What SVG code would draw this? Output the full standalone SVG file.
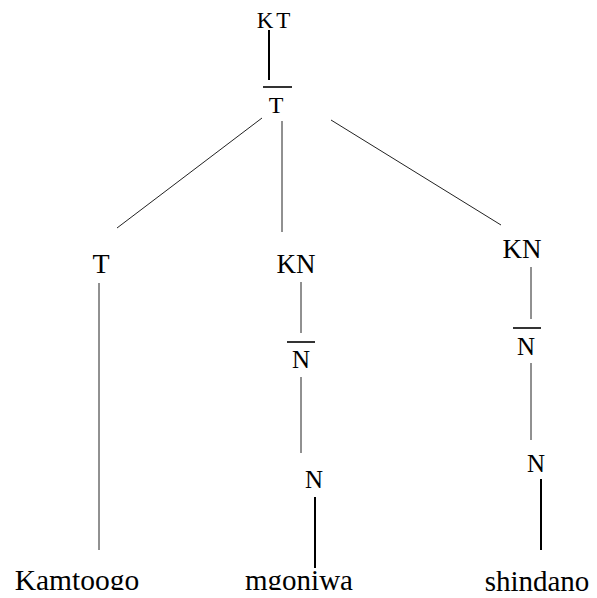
<svg xmlns="http://www.w3.org/2000/svg" width="597" height="598" viewBox="0 0 597 598">
<style>
text{font-family:"Liberation Serif","Times New Roman",serif;fill:#000;text-anchor:middle}
.thin{stroke:#222;stroke-width:1;fill:none}
.thick{stroke:#000;stroke-width:2;fill:none}
.bar{stroke:#000;stroke-width:1.6;fill:none}
</style>
<defs>
<clipPath id="clipBottom"><rect x="0" y="0" width="597" height="590"/></clipPath>
</defs>
<g id="connectors">
<line class="thick" x1="269" y1="30" x2="269" y2="80"/>
<line class="thin" x1="262" y1="118" x2="117" y2="228"/>
<line class="thin" x1="282" y1="121" x2="282" y2="232"/>
<line class="thin" x1="331" y1="120" x2="501" y2="225"/>
<line class="thin" x1="99" y1="283" x2="99" y2="550"/>
<line class="thin" x1="301" y1="282" x2="301" y2="333"/>
<line class="thin" x1="301" y1="377" x2="301" y2="453"/>
<line class="thick" x1="315" y1="497" x2="315" y2="568"/>
<line class="thin" x1="531" y1="267" x2="531" y2="319"/>
<line class="thin" x1="531" y1="363" x2="531" y2="440"/>
<line class="thick" x1="541" y1="479" x2="541" y2="550"/>
</g>
<g id="KT"><text x="275" y="28" font-size="23" letter-spacing="3">KT</text></g>
<g id="Tbar"><line class="bar" x1="263" y1="87" x2="292" y2="87"/><text x="276" y="113" font-size="24">T</text></g>
<g id="T"><text x="101" y="273" font-size="28">T</text></g>
<g id="KN1"><text x="296" y="273" font-size="27">KN</text></g>
<g id="Nbar1"><line class="bar" x1="287" y1="342" x2="315" y2="342"/><text x="301" y="368" font-size="25">N</text></g>
<g id="N1"><text x="314" y="488" font-size="25">N</text></g>
<g id="KN2"><text x="522" y="258" font-size="27">KN</text></g>
<g id="Nbar2"><line class="bar" x1="513" y1="328" x2="541" y2="328"/><text x="526" y="355" font-size="25">N</text></g>
<g id="N2"><text x="536" y="472" font-size="25">N</text></g>
<g id="Kamtoogo" clip-path="url(#clipBottom)"><text x="77" y="590" font-size="29.5">Kamtoogo</text></g>
<g id="mgoniwa" clip-path="url(#clipBottom)"><text x="299" y="590" font-size="29">mgoniwa</text></g>
<g id="shindano"><text x="537" y="591" font-size="29">shindano</text></g>
</svg>
